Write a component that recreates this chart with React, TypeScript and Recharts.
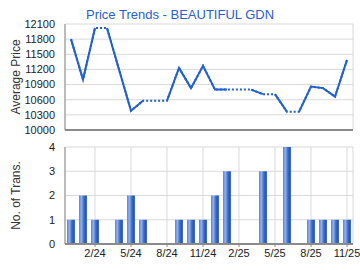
import React from 'react';
import { LineChart, Line, BarChart, Bar, XAxis, YAxis, CartesianGrid } from 'recharts';

const months = [
  '12/23', '1/24', '2/24', '3/24', '4/24', '5/24', '6/24', '7/24', '8/24', '9/24', '10/24', '11/24',
  '12/24', '1/25', '2/25', '3/25', '4/25', '5/25', '6/25', '7/25', '8/25', '9/25', '10/25', '11/25',
];
// null = no transaction that month (price carried forward, drawn dotted)
const avgPrice = [
  11800, 11000, 12020, null, 11200, 10380, 10580, null, null, 11230, 10830, 11270,
  10800, 10800, null, null, 10710, null, 10360, null, 10860, 10830, 10660, 11390,
];
const transactions = [1, 2, 1, 0, 1, 2, 1, 0, 0, 1, 1, 1, 2, 3, 0, 0, 3, 0, 4, 0, 1, 1, 1, 1];
const xTicks = ['2/24', '5/24', '8/24', '11/24', '2/25', '5/25', '8/25', '11/25'];
const priceTicks = [10000, 10300, 10600, 10900, 11200, 11500, 11800, 12100];
const transTicks = [0, 1, 2, 3, 4];

const LINE = '#2160d0';
const GRID = '#d9d9d9';
const AXIS = '#8a8a8a';
const TEXT = '#222';

type Row = {
  month: string;
  carried: number | null;
  solidA: number | null;
  solidB: number | null;
  trans: number;
};

let last: number | null = null;
const rows: Row[] = months.map((m, i) => {
  if (avgPrice[i] != null) last = avgPrice[i];
  return { month: m, carried: last, solidA: null, solidB: null, trans: transactions[i] };
});

// segment (i-1 -> i) is solid when month i has its own price; split solid runs over two series
let run = -1;
let prevSolid = false;
for (let i = 1; i < rows.length; i++) {
  if (avgPrice[i] != null) {
    if (!prevSolid) run++;
    const key = run % 2 === 0 ? 'solidA' : 'solidB';
    rows[i - 1][key] = rows[i - 1].carried;
    rows[i][key] = rows[i].carried;
    prevSolid = true;
  } else {
    prevSolid = false;
  }
}

const tickStyle = { fontSize: 11, fill: TEXT };
const labelStyle = { fontSize: 12, fill: '#333' };

const App: React.FC = () => {
  return (
    <div
      style={{
        position: 'absolute',
        left: 0,
        top: 0,
        width: 360,
        height: 270,
        background: '#fff',
        fontFamily: '"Liberation Sans", Arial, sans-serif',
      }}
    >
      <div
        style={{
          position: 'absolute',
          top: 7,
          left: 0,
          width: 360,
          textAlign: 'center',
          fontSize: 13,
          color: '#2a5fcf',
        }}
      >
        Price Trends - BEAUTIFUL GDN
      </div>

      <div style={{ position: 'absolute', top: 0, left: 0 }}>
        <LineChart width={360} height={140} data={rows} margin={{ top: 24, right: 7, bottom: 0, left: 0 }}>
          <CartesianGrid stroke={GRID} />
          <XAxis
            dataKey="month"
            ticks={xTicks}
            tick={false}
            tickLine={false}
            height={10}
            padding={{ left: 6, right: 6 }}
            axisLine={{ stroke: AXIS, strokeWidth: 2 }}
          />
          <YAxis
            width={65}
            domain={[10000, 12100]}
            ticks={priceTicks}
            interval={0}
            tick={tickStyle}
            tickLine={false}
            tickMargin={4}
            axisLine={{ stroke: AXIS }}
            label={{ value: 'Average Price', angle: -90, position: 'center', dx: -17, style: labelStyle }}
          />
          <Line
            dataKey="carried"
            stroke={LINE}
            strokeWidth={2}
            strokeDasharray="2 2"
            dot={false}
            activeDot={false}
            isAnimationActive={false}
          />
          <Line dataKey="solidA" stroke={LINE} strokeWidth={2} dot={false} activeDot={false} isAnimationActive={false} />
          <Line dataKey="solidB" stroke={LINE} strokeWidth={2} dot={false} activeDot={false} isAnimationActive={false} />
        </LineChart>
      </div>

      <div style={{ position: 'absolute', top: 140, left: 0 }}>
        <BarChart width={360} height={130} data={rows} margin={{ top: 7, right: 7, bottom: 0, left: 0 }}>
          <defs>
            <linearGradient id="barGrad" x1="0" y1="0" x2="1" y2="0">
              <stop offset="0%" stopColor="#5a85d6" />
              <stop offset="30%" stopColor="#8fb0ec" />
              <stop offset="60%" stopColor="#3d6dcd" />
              <stop offset="85%" stopColor="#2655b5" />
              <stop offset="100%" stopColor="#4a78d0" />
            </linearGradient>
          </defs>
          <CartesianGrid stroke={GRID} />
          <XAxis
            dataKey="month"
            ticks={xTicks}
            interval={0}
            tick={tickStyle}
            tickSize={3}
            tickLine={{ stroke: AXIS }}
            height={26}
            axisLine={{ stroke: AXIS, strokeWidth: 2 }}
          />
          <YAxis
            width={65}
            domain={[0, 4]}
            ticks={transTicks}
            interval={0}
            tick={tickStyle}
            tickLine={false}
            tickMargin={4}
            axisLine={{ stroke: AXIS }}
            label={{ value: 'No. of Trans.', angle: -90, position: 'center', dx: -17, style: labelStyle }}
          />
          <Bar dataKey="trans" barSize={8} fill="url(#barGrad)" isAnimationActive={false} />
        </BarChart>
      </div>
    </div>
  );
};

export default App;
